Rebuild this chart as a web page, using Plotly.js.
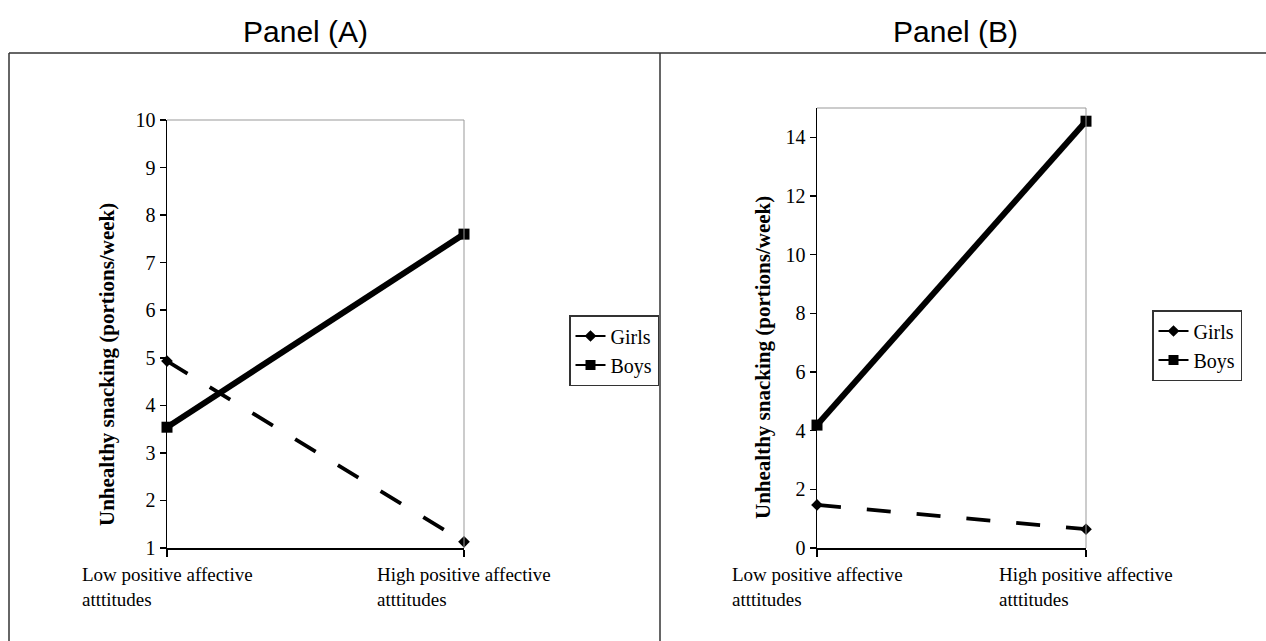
<!DOCTYPE html>
<html>
<head>
<meta charset="utf-8">
<script src="https://cdn.plot.ly/plotly-3.0.1.min.js"></script>
<style>html,body{margin:0;padding:0;background:#fff;}#chart{width:1266px;height:641px;}</style>
</head>
<body>
<div id="chart"></div>
<script>
// ---- data ----
const categories = ['Low positive affective<br>atttitudes', 'High positive affective<br>atttitudes'];
const seriesNames = ['Girls', 'Boys'];
const girlsA = [4.93, 1.13];
const boysA = [3.54, 7.60];
const girlsB = [1.47, 0.64];
const boysB = [4.19, 14.55];
const panelTitles = ['Panel (A)', 'Panel (B)'];
const yTitle = 'Unhealthy snacking (portions/week)';
const yTicksA = [1, 2, 3, 4, 5, 6, 7, 8, 9, 10];
const yTicksB = [0, 2, 4, 6, 8, 10, 12, 14];

const W = 1266, H = 641;
const serif = 'Liberation Serif, Times New Roman, serif';
const px = v => v / W;
const py = v => (H - v) / H;

function girlsTrace(y, xa, ya) {
  return {x: categories, y: y, xaxis: xa, yaxis: ya, name: seriesNames[0], showlegend: false,
    type: 'scatter', mode: 'lines+markers', cliponaxis: false,
    line: {color: '#000', width: 3.8, dash: '24px,26px'},
    marker: {symbol: 'diamond', size: 9, color: '#000'}};
}
function boysTrace(y, xa, ya) {
  return {x: categories, y: y, xaxis: xa, yaxis: ya, name: seriesNames[1], showlegend: false,
    type: 'scatter', mode: 'lines+markers', cliponaxis: false,
    line: {color: '#000', width: 6},
    marker: {symbol: 'square', size: 11, color: '#000'}};
}
// legend-only entries (no data) so the key shows solid lines like the original
function keyTrace(i, xa, ya, lg) {
  return {x: [null], y: [null], xaxis: xa, yaxis: ya, legend: lg, name: seriesNames[i],
    type: 'scatter', mode: 'lines+markers',
    line: {color: '#000', width: 2},
    marker: {symbol: i === 0 ? 'diamond' : 'square', size: i === 0 ? 9 : 10, color: '#000'}};
}

const data = [
  girlsTrace(girlsA, 'x', 'y'),
  boysTrace(boysA, 'x', 'y'),
  girlsTrace(girlsB, 'x2', 'y2'),
  boysTrace(boysB, 'x2', 'y2'),
  keyTrace(0, 'x', 'y', 'legend'), keyTrace(1, 'x', 'y', 'legend'),
  keyTrace(0, 'x2', 'y2', 'legend2'), keyTrace(1, 'x2', 'y2', 'legend2')
];

function xAxis(dom, anchor) {
  return {domain: dom, anchor: anchor, type: 'category', range: [0, 1], showgrid: false, zeroline: false,
    showline: true, linecolor: '#000', linewidth: 1.5, ticks: 'outside', ticklen: 7, tickwidth: 1.5,
    tickcolor: '#000', showticklabels: false, fixedrange: true};
}
function yAxis(dom, anchor, range, tv) {
  return {domain: dom, anchor: anchor, range: range, tickvals: tv, showgrid: false, zeroline: false,
    showline: true, linecolor: '#000', linewidth: 1.5, ticks: 'outside', ticklen: 6, tickwidth: 1.5,
    tickcolor: '#000', tickfont: {family: serif, size: 20, color: '#000'}, fixedrange: true};
}

const domAx = [px(167), px(464)];
const domAy = [py(548), py(120)];
const domBx = [px(817), px(1086)];
const domBy = [py(548), py(108)];

const annotations = [];
// panel titles
[[305, panelTitles[0]], [955, panelTitles[1]]].forEach(([x, t]) => annotations.push({
  xref: 'paper', yref: 'paper', x: px(x), y: py(31), xanchor: 'center', yanchor: 'middle',
  text: t, showarrow: false, font: {family: 'Liberation Sans, Arial, sans-serif', size: 30, color: '#000'}}));
// y titles
[[107, 364], [763, 358]].forEach(([x, y]) => annotations.push({
  xref: 'paper', yref: 'paper', x: px(x), y: py(y), xanchor: 'center', yanchor: 'middle',
  text: '<b>' + yTitle + '</b>', textangle: -90, showarrow: false,
  font: {family: serif, size: 21, color: '#000'}}));
// category labels, left aligned lines
[['x', 'y'], ['x2', 'y2']].forEach(([xa, ya]) => {
  categories.forEach((c, i) => annotations.push({
    xref: xa, yref: 'paper', x: i, y: py(562), xanchor: 'center', yanchor: 'top',
    text: c, align: 'left', showarrow: false,
    font: {family: serif, size: 19, color: '#000'}}));
});

const shapes = [
  {type: 'line', xref: 'paper', yref: 'paper', x0: px(9), x1: 1.01, y0: py(53), y1: py(53), line: {color: '#333', width: 1.5}},
  {type: 'line', xref: 'paper', yref: 'paper', x0: px(9), x1: px(9), y0: py(53), y1: -0.01, line: {color: '#333', width: 1.5}},
  {type: 'line', xref: 'paper', yref: 'paper', x0: px(660), x1: px(660), y0: py(53), y1: -0.01, line: {color: '#333', width: 1.5}},
];
[['x', 'y'], ['x2', 'y2']].forEach(([xa, ya]) => {
  shapes.push({type: 'line', xref: xa + ' domain', yref: ya + ' domain', x0: 0, x1: 1, y0: 1, y1: 1, line: {color: '#999', width: 1}});
  shapes.push({type: 'line', xref: xa + ' domain', yref: ya + ' domain', x0: 1, x1: 1, y0: 0, y1: 1, line: {color: '#999', width: 1}});
});

function legendCfg(x0, y0) {
  return {x: px(x0), y: py(y0), xanchor: 'left', yanchor: 'top', xref: 'paper', yref: 'paper',
    bgcolor: '#fff', bordercolor: '#333', borderwidth: 1.5,
    font: {family: serif, size: 20, color: '#000'}, itemwidth: 30, tracegroupgap: 0};
}

const layout = {
  width: W, height: H, margin: {l: 0, r: 0, t: 0, b: 0},
  paper_bgcolor: '#fff', plot_bgcolor: 'rgba(0,0,0,0)',
  showlegend: true,
  xaxis: xAxis(domAx, 'y'),
  yaxis: yAxis(domAy, 'x', [1, 10], yTicksA),
  xaxis2: xAxis(domBx, 'y2'),
  yaxis2: yAxis(domBy, 'x2', [0, 15], yTicksB),
  legend: legendCfg(569, 315),
  legend2: legendCfg(1152, 310),
  annotations: annotations,
  shapes: shapes
};

Plotly.newPlot('chart', data, layout, {displayModeBar: false, staticPlot: true});
</script>
</body>
</html>
